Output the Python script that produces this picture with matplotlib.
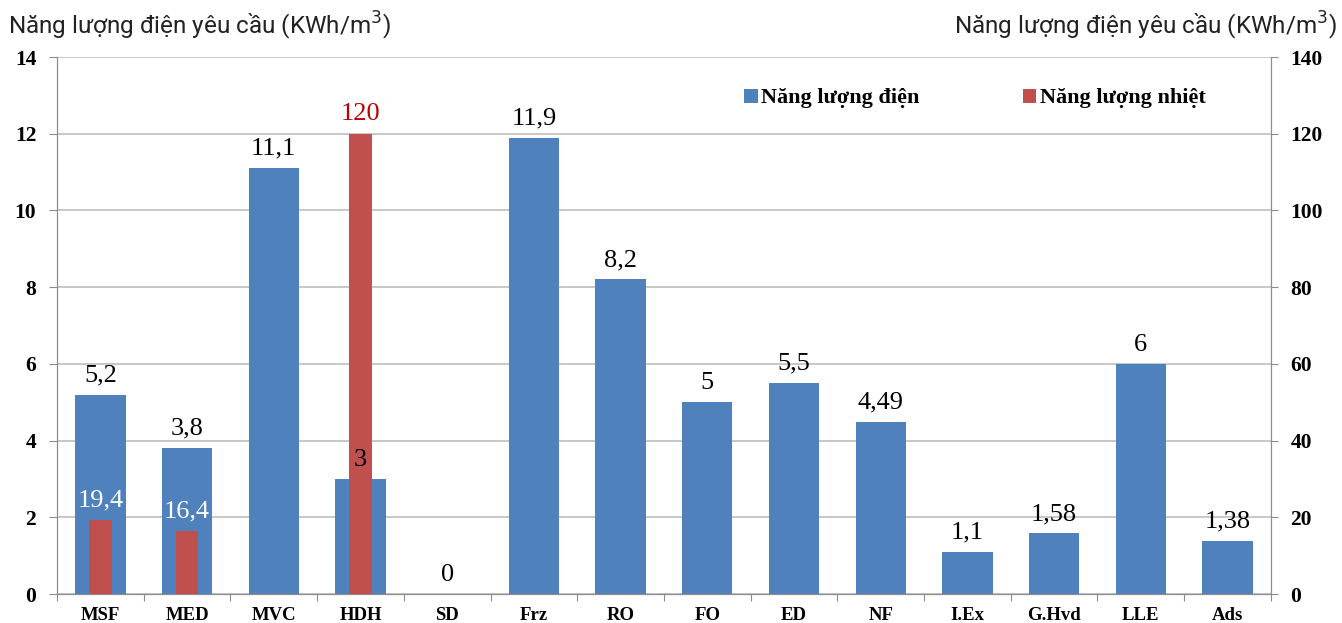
import matplotlib
matplotlib.use('Agg')
import matplotlib.pyplot as plt
import numpy as np

# Energy demand of desalination technologies
categories = ['MSF', 'MED', 'MVC', 'HDH', 'SD', 'Frz', 'RO', 'FO', 'ED', 'NF',
              'I.Ex', 'G.Hvd', 'LLE', 'Ads']
electric = [5.2, 3.8, 11.1, 3, 0, 11.9, 8.2, 5, 5.5, 4.49, 1.1, 1.58, 6, 1.38]
electric_labels = ['5,2', '3,8', '11,1', '3', '0', '11,9', '8,2', '5', '5,5', '4,49',
                   '1,1', '1,58', '6', '1,38']
thermal = [19.4, 16.4, 120]
thermal_idx = [0, 1, 3]
thermal_labels = ['19,4', '16,4', '120']
left_ticks = [0, 2, 4, 6, 8, 10, 12, 14]
right_ticks = [0, 20, 40, 60, 80, 100, 120, 140]

blue = '#4F81BD'
red = '#C0504D'
serif = 'Liberation Serif'

fig = plt.figure(figsize=(13.42, 6.23), dpi=100)
ax = fig.add_axes([0.0425, 0.0465, 0.9045, 0.862])
ax2 = ax.twinx()

x = np.arange(len(categories))
bars = ax.bar(x, electric, width=0.58, color=blue, zorder=2, label='Năng lượng điện')
tbars = ax2.bar(np.array(thermal_idx), thermal, width=0.26, color=red, zorder=3,
                label='Năng lượng nhiệt')

# value labels go on the top axes so they stay above the red bars
for b, lab in zip(bars, electric_labels):
    ax2.annotate(lab, (b.get_x() + b.get_width() / 2, b.get_height()),
                 xycoords=ax.transData, xytext=(0, 6), textcoords='offset points',
                 ha='center', va='bottom', fontsize=19, family=serif, color='black',
                 zorder=5)
tcolors = ['white', 'white', '#C00000']
for b, lab, c in zip(tbars, thermal_labels, tcolors):
    ax2.annotate(lab, (b.get_x() + b.get_width() / 2, b.get_height()),
                 xytext=(0, 6), textcoords='offset points', ha='center', va='bottom',
                 fontsize=19, family=serif, color=c)

ax.set_xlim(-0.5, len(categories) - 0.5)
ax.set_ylim(0, 14)
ax2.set_ylim(0, 140)
ax.set_yticks(left_ticks)
ax.set_yticklabels([str(t) for t in left_ticks])
ax2.set_yticks(right_ticks)
ax2.set_yticklabels([str(t) for t in right_ticks])
ax.yaxis.grid(True, color='#BFBFBF', linewidth=1.2, zorder=0)
ax.set_axisbelow(True)

# category ticks sit between groups, labels centred under bars
ax.set_xticks(np.arange(-0.5, len(categories), 1))
ax.set_xticklabels([])
ax.set_xticks(x, minor=True)
ax.set_xticklabels(categories, minor=True, fontsize=13.5, fontweight='bold', family=serif)
ax.tick_params(axis='x', which='minor', length=0, pad=9)
ax.tick_params(axis='x', which='major', length=5, color='#8C8C8C', direction='out')

for a in (ax, ax2):
    for s in a.spines.values():
        s.set_color('#8C8C8C')
    a.spines['top'].set_visible(False)
ax.tick_params(axis='y', length=6, color='#8C8C8C', pad=9)
ax2.tick_params(axis='y', length=5, color='#8C8C8C', pad=9)

for t in ax.yaxis.get_major_ticks():
    t.label1.set_fontweight('bold')
    t.label1.set_fontfamily(serif)
    t.label1.set_fontsize(15.5)
for t in ax2.yaxis.get_major_ticks():
    t.label2.set_fontweight('bold')
    t.label2.set_fontfamily(serif)
    t.label2.set_fontsize(15.5)

# legend
handles = [bars, tbars]
ax.legend(handles, [h.get_label() for h in handles], loc='upper left',
          bbox_to_anchor=(0.559, 0.958), ncol=2, frameon=False, handlelength=0.6,
          handleheight=0.6, handletextpad=0.15, columnspacing=4.65,
          borderaxespad=0, prop={'family': serif, 'weight': 'bold', 'size': 16})

ylab = 'Năng lượng điện yêu cầu (KWh/m$^3$)'
fig.text(0.006, 0.958, ylab, ha='left', va='center', fontsize=17.5,
         family='Roboto', color='#222222')
fig.text(0.996, 0.958, ylab, ha='right', va='center', fontsize=17.5,
         family='Roboto', color='#222222')

fig.savefig('out.png', dpi=100)
